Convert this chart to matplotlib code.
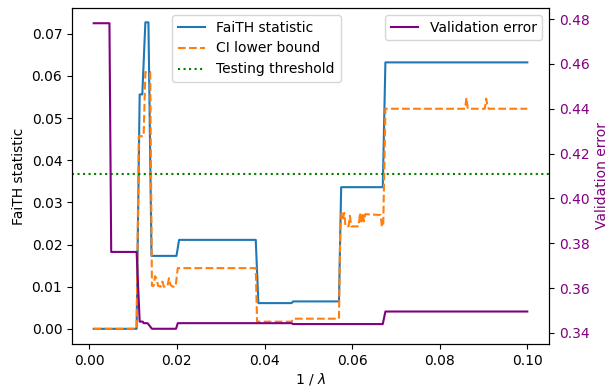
import matplotlib
matplotlib.use("Agg")
import matplotlib.pyplot as plt

# FaiTH statistic (vertices of the plotted line)
faith_x = [0.001, 0.0108, 0.0115, 0.0121, 0.0128, 0.0135, 0.0142, 0.0199, 0.0205,
           0.0380, 0.0386, 0.0462, 0.0465, 0.0570, 0.0575, 0.0670, 0.0676, 0.1]
faith_y = [0.0, 0.0, 0.0556, 0.0556, 0.0727, 0.0727, 0.0173, 0.0173, 0.0211,
           0.0211, 0.0061, 0.0061, 0.0065, 0.0065, 0.0336, 0.0336, 0.0632, 0.0632]

# CI lower bound
ci_x = [0.001, 0.0108, 0.0113, 0.0124, 0.0128, 0.0139, 0.0143, 0.0147, 0.0150,
        0.0154, 0.0157, 0.0163, 0.0167, 0.0170, 0.0178, 0.0182, 0.0185, 0.0190,
        0.0197, 0.0202, 0.0380, 0.0383, 0.0462, 0.0465, 0.0570, 0.0573, 0.0576,
        0.0579, 0.0582, 0.0585, 0.0592, 0.0595, 0.0598, 0.0615, 0.0618, 0.0621,
        0.0624, 0.0627, 0.0630, 0.0665, 0.0668, 0.0671, 0.0676, 0.0858, 0.0861,
        0.0864, 0.0903, 0.0906, 0.0909, 0.0912, 0.1]
ci_y = [0.0, 0.0, 0.0457, 0.0457, 0.0609, 0.0609, 0.0102, 0.0102, 0.0125,
        0.0118, 0.0102, 0.0100, 0.0112, 0.0100, 0.0100, 0.0120, 0.0105, 0.0100,
        0.0100, 0.0144, 0.0144, 0.0017, 0.0017, 0.0024, 0.0024, 0.0245, 0.0275,
        0.0262, 0.0275, 0.0243, 0.0243, 0.0268, 0.0243, 0.0243, 0.0275, 0.0250,
        0.0275, 0.0255, 0.0272, 0.0270, 0.0243, 0.0243, 0.0522, 0.0522, 0.0548,
        0.0522, 0.0522, 0.0546, 0.0530, 0.0522, 0.0522]

threshold = 0.0367

# Validation error
val_x = [0.001, 0.0046, 0.0050, 0.0108, 0.0115, 0.0122, 0.0124, 0.0133, 0.0143,
         0.0198, 0.0202, 0.0462, 0.0465, 0.0670, 0.0676, 0.1]
val_y = [0.4782, 0.4782, 0.3761, 0.3761, 0.3450, 0.3450, 0.3443, 0.3443, 0.3418,
         0.3418, 0.3443, 0.3443, 0.3439, 0.3439, 0.3495, 0.3495]

fig = plt.figure(figsize=(6.08, 3.86), dpi=100)
ax1 = fig.add_axes([72/608, 1-344/386, (549-72)/608, (344-8)/386])

ax1.plot(faith_x, faith_y, color='C0', label='FaiTH statistic')
ax1.plot(ci_x, ci_y, color='C1', linestyle='--', label='CI lower bound')
ax1.axhline(threshold, color='green', linestyle=':', label='Testing threshold')
ax1.set_xlabel('1 / $\\lambda$', labelpad=2.5)
ax1.set_ylabel('FaiTH statistic')
ax1.set_xlim(-0.00395, 0.10495)
ax1.set_ylim(-0.0036, 0.0761)
ax1.legend(loc='upper left', bbox_to_anchor=((172-72)/477, (344-15)/336), borderaxespad=0)

ax2 = ax1.twinx()
ax2.plot(val_x, val_y, color='purple', label='Validation error')
ax2.set_ylabel('Validation error', color='purple')
ax2.tick_params(axis='y', labelcolor='purple')
ax2.set_ylim(0.335, 0.485)
ax2.legend(loc='upper right')

fig.savefig('out.png', dpi=100)
